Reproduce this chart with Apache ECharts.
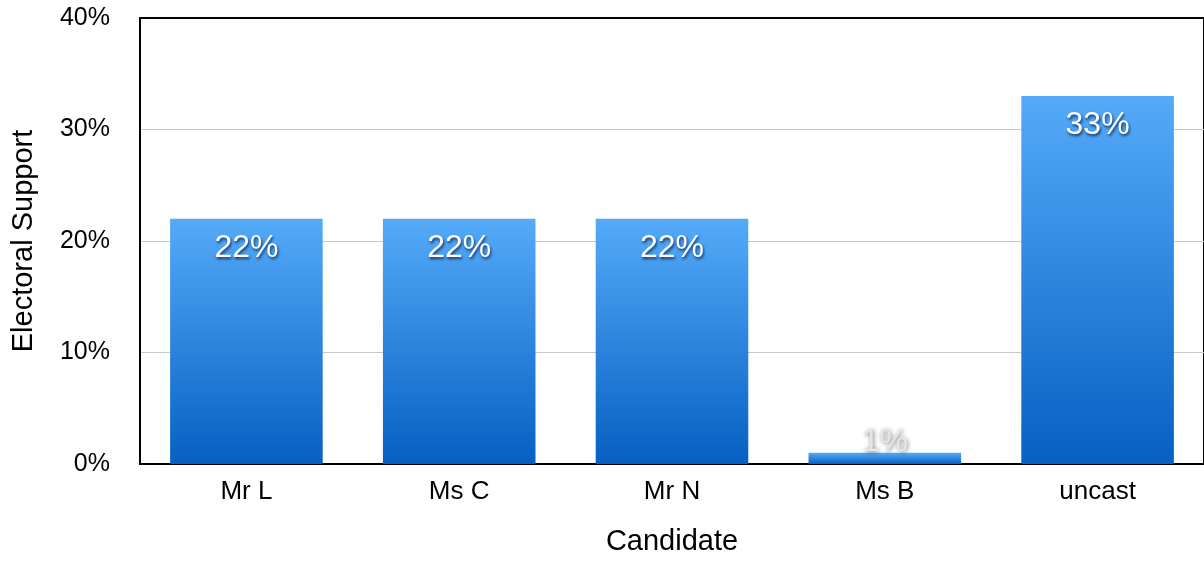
<!DOCTYPE html>
<html>
<head>
<meta charset="utf-8">
<script src="https://cdn.jsdelivr.net/npm/echarts@6/dist/echarts.min.js"></script>
<style>
  html, body { margin: 0; padding: 0; background: #fff; }
  #chart { width: 1204px; height: 561px; }
</style>
</head>
<body>
<div id="chart"></div>
<script>
// Candidates and their share of electoral support (%)
const candidates = ['Mr L', 'Ms C', 'Mr N', 'Ms B', 'uncast'];
const support = [22, 22, 22, 1, 33];
const yTicks = [0, 10, 20, 30, 40];

const FONT = '"Liberation Sans", Arial, Helvetica, sans-serif';

const barGradient = new echarts.graphic.LinearGradient(0, 0, 0, 1, [
  { offset: 0, color: '#55aaf9' },
  { offset: 1, color: '#0660c2' }
]);

// Labels sit inside the top of tall bars; short bars get theirs just above
const barData = support.map(v => {
  const item = { value: v };
  if (v < 5) {
    item.label = {
      position: 'top',
      distance: -5,
      color: '#e6e6e6',
      textShadowColor: 'rgba(0,0,0,0.55)',
      textShadowBlur: 4,
      textShadowOffsetX: 1,
      textShadowOffsetY: 1
    };
  }
  return item;
});

const chart = echarts.init(document.getElementById('chart'), null, { renderer: 'canvas' });
chart.setOption({
  animation: false,
  backgroundColor: '#fff',
  grid: {
    left: 140, right: -4, top: 18, bottom: 90,
    show: true, borderColor: '#000', borderWidth: 2, backgroundColor: 'transparent'
  },
  xAxis: {
    type: 'category',
    data: candidates,
    name: 'Candidate',
    nameLocation: 'middle',
    nameGap: 63,
    nameTextStyle: { fontFamily: FONT, fontSize: 29, color: '#000' },
    axisLine: { lineStyle: { color: '#000', width: 2 } },
    axisTick: { show: false },
    axisLabel: { fontFamily: FONT, fontSize: 26, color: '#000', margin: 15 }
  },
  yAxis: {
    type: 'value',
    min: yTicks[0],
    max: yTicks[yTicks.length - 1],
    interval: 10,
    name: 'Electoral Support',
    nameLocation: 'middle',
    nameGap: 102,
    nameTextStyle: { fontFamily: FONT, fontSize: 29, color: '#000' },
    axisLine: { show: true, lineStyle: { color: '#000', width: 2 } },
    axisTick: { show: false },
    axisLabel: {
      fontFamily: FONT, fontSize: 25, color: '#000', margin: 30,
      padding: [6, 0, 0, 0], formatter: '{value}%'
    },
    splitLine: { lineStyle: { color: ['#c8c8c8', '#c8c8c8', '#c8c8c8', '#c8c8c8', '#000'], width: 1 } }
  },
  series: [{
    type: 'bar',
    data: barData,
    barWidth: '71.7%',
    itemStyle: { color: barGradient },
    label: {
      show: true,
      position: 'insideTop',
      distance: 13,
      formatter: '{c}%',
      fontFamily: FONT,
      fontSize: 32,
      color: '#fff',
      textShadowColor: 'rgba(0,20,60,0.8)',
      textShadowBlur: 3,
      textShadowOffsetX: 1,
      textShadowOffsetY: 2
    }
  }]
});
</script>
</body>
</html>
